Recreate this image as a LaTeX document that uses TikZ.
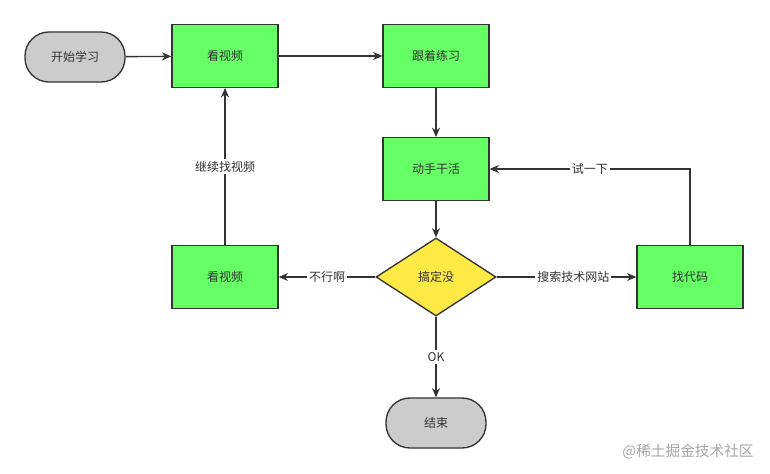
\documentclass[tikz,border=0pt]{standalone}
\usepackage{fontspec}
\newfontfamily\cjk{Noto Sans CJK SC}
\usetikzlibrary{shapes.geometric,arrows.meta}
\definecolor{boxgreen}{HTML}{66FF66}
\definecolor{decyellow}{HTML}{FFE945}
\definecolor{termgray}{HTML}{CCCCCC}
\definecolor{edge}{HTML}{333333}
\tikzset{
  stepbox/.style={draw=edge,line width=1pt,fill=boxgreen,minimum width=79.5pt,minimum height=47pt},
  termbox/.style={draw=edge,line width=1pt,fill=termgray,rounded corners=18pt,minimum width=75pt,minimum height=37.5pt},
  askbox/.style={draw=edge,line width=1pt,fill=decyellow,diamond,inner sep=0pt,minimum width=90pt,minimum height=58.5pt},
  flow/.style={draw=edge,line width=1pt,-{Stealth[length=7pt,width=6pt]}},
  tag/.style={fill=white,inner sep=1.5pt}
}
\begin{document}
\begin{tikzpicture}[x=0.75pt,y=-0.75pt,font=\cjk\fontsize{9}{11}\selectfont,text=edge]
\useasboundingbox[fill=white] (0,0) rectangle (770,474);
\node[termbox] (start) at (75,57) {开始学习};
\node[stepbox] (watch) at (225,56) {看视频};
\node[stepbox] (follow) at (436,56) {跟着练习};
\node[stepbox] (work) at (436,169) {动手干活};
\node[askbox] (done) at (436,277) {搞定没};
\node[stepbox] (rewatch) at (225,277) {看视频};
\node[stepbox] (code) at (690,277) {找代码};
\node[termbox] (stop) at (436,423) {结束};
%%
\draw[flow] (start) -- (watch);
\draw[flow] (watch) -- (follow);
\draw[flow] (follow) -- (work);
\draw[flow] (work) -- (done);
\draw[flow] (done) -- node[tag] {不行啊} (rewatch);
\draw[flow] (done) -- node[tag,pos=0.55] {搜索技术网站} (code);
\draw[flow] (code) |- node[tag,pos=0.75] {试一下} (work);
\draw[flow] (rewatch) -- node[tag] {继续找视频} (watch);
\draw[flow] (done) -- node[tag] {OK} (stop);
%%
\node[text=gray!70,font=\cjk\fontsize{11}{13}\selectfont] (mark) at (688,452) {@稀土掘金技术社区};
\end{tikzpicture}
\end{document}
